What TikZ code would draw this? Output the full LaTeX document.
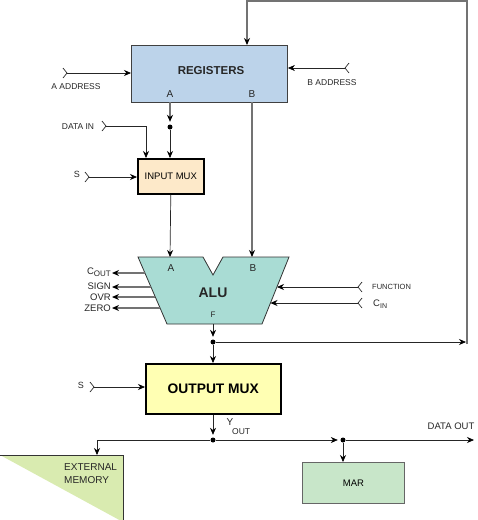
\documentclass[tikz,border=0pt]{standalone}
\usepackage{fontspec}
\setmainfont{Liberation Sans}
\usetikzlibrary{arrows.meta}
\definecolor{regfill}{HTML}{BCD3EA}
\definecolor{inmfill}{HTML}{FDE9C9}
\definecolor{alufill}{HTML}{A9DCD4}
\definecolor{outmfill}{HTML}{FFFFB3}
\definecolor{extfill}{HTML}{D9EBB0}
\definecolor{marfill}{HTML}{C8E6C9}
\newcommand{\fsz}[1]{\fontsize{#1}{#1}\selectfont}
\begin{document}
\begin{tikzpicture}[x=1pt,y=-1pt,
  wire/.style={draw=black!85, line width=0.7pt},
  bus/.style={draw=black!55, line width=1.5pt},
  arr/.style={-{Stealth[length=7pt,width=6pt,color=black]}},
  dotn/.style={circle, fill=black, inner sep=0pt, minimum size=5pt},
  lbl/.style={inner sep=1pt, text=black!85},
  box/.style={anchor=north west, inner sep=0pt},
  chevR/.pic={\draw[black!85, line width=0.7pt] (-4,-5) -- (0,0) -- (-4,5);},
  chevL/.pic={\draw[black!85, line width=0.7pt] (4,-5) -- (0,0) -- (4,5);},
]
\useasboundingbox (0,0) rectangle (478,520);

% ---------- boxes ----------
\node[box, draw=black!75, line width=0.9pt, fill=regfill, minimum width=156pt, minimum height=57pt] (reg) at (131,45) {};
\node[font=\bfseries\fsz{11.5}, text=black!85] (regt) at (211,71) {REGISTERS};
\node[font=\fsz{10}, text=black!85] (regAl) at (170,94) {A};
\node[font=\fsz{10}, text=black!85] (regBl) at (252,94) {B};

\node[box, draw=black, line width=1.6pt, fill=inmfill, minimum width=66pt, minimum height=35pt, font=\fsz{9.5}] (inmux) at (137,158) {INPUT MUX};

\draw[draw=black!80, line width=0.8pt, fill=alufill]
  (138,257) -- (203,257) -- (213,275) -- (223,257) -- (289,257) -- (262,324) -- (167,324) -- cycle;
\node[font=\bfseries\fsz{14}, text=black!85] (alu) at (213,293) {ALU};
\node[font=\fsz{10}, text=black!85] (aluAl) at (171,268) {A};
\node[font=\fsz{10}, text=black!85] (aluBl) at (253,268) {B};
\node[font=\fsz{8}, text=black!85] (aluFl) at (213,315) {F};

\node[box, draw=black, line width=1.6pt, fill=outmfill, minimum width=135pt, minimum height=50pt, font=\bfseries\fsz{13.8}] (outmux) at (145,363) {OUTPUT MUX};

\fill[extfill] (0,455) -- (123,455) -- (123,522) -- cycle;
\draw[black!80, line width=0.8pt] (0,455) -- (123,455) -- (123,520);
\node[anchor=north west, align=left, inner sep=0pt, font=\fsz{10}, text=black!85] (extmem) at (64,463) {EXTERNAL\\[3pt]MEMORY};

\node[box, draw=black!60, line width=0.8pt, fill=marfill, minimum width=102pt, minimum height=41pt, font=\fsz{9.5}] (mar) at (302,462) {MAR};

% ---------- coordinates ----------
\coordinate (regA) at (170,102);
\coordinate (regB) at (252,102);
\coordinate (aluA) at (170,257);
\coordinate (aluB) at (252,257);
\coordinate (aluF) at (213,324);
\coordinate (aluCo) at (144.9,273);
\coordinate (aluSg) at (151,287);
\coordinate (aluOv) at (155.3,297);
\coordinate (aluZe) at (160.1,308);
\coordinate (aluFn) at (277,287);
\coordinate (aluCi) at (270.5,303);
\node[dotn] (dotA) at (170,127) {};
\node[dotn] (dotF) at (213,342) {};
\node[dotn] (dotY) at (213,440) {};
\node[dotn] (dotM) at (343,440) {};
\coordinate (fbR) at (466,342);
\coordinate (fbBot) at (467,344);
\coordinate (fbTR) at (467,1);
\coordinate (fbTL) at (247,1);
\coordinate (busL) at (97,440);
\coordinate (busR) at (474,440);
\coordinate (extTop) at (97,455);
\coordinate (inD) at (146,158);

% ---------- inputs with chevrons ----------
\coordinate (aaddr) at (67,73);
\pic at (aaddr) {chevR};
\draw[wire,arr] (aaddr) -- (aaddr -| reg.west);
\node[lbl, font=\fsz{8.5}] (aaddrl) at (76,87) {A ADDRESS};

\coordinate (baddr) at (345,68);
\pic at (baddr) {chevL};
\draw[wire,arr] (baddr) -- (baddr -| reg.east);
\node[lbl, font=\fsz{8.5}] (baddrl) at (332,83) {B ADDRESS};

\coordinate (din) at (106,126);
\pic at (din) {chevR};
\draw[wire,arr] (din) -| (inD);
\node[lbl, font=\fsz{8.5}] (dinl) at (78,127) {DATA IN};

\coordinate (sone) at (89,177);
\pic at (sone) {chevR};
\draw[wire,arr] (sone) -- (sone -| inmux.west);
\node[lbl, font=\fsz{9}] (sonel) at (77,174) {S};

\coordinate (fn) at (358,287);
\pic at (fn) {chevL};
\draw[wire,arr] (fn) -- (aluFn);
\node[lbl, anchor=west, font=\fsz{7.5}] (fnl) at (371,287) {FUNCTION};

\coordinate (cin) at (358,303);
\pic at (cin) {chevL};
\draw[wire,arr] (cin) -- (aluCi);
\node[lbl, anchor=west] (cinl) at (372,304) {{\fsz{9.5}C}\raisebox{-0.35ex}{\fsz{7}IN}};

\coordinate (stwo) at (94,387);
\pic at (stwo) {chevR};
\draw[wire,arr] (stwo) -- (stwo -| outmux.west);
\node[lbl, font=\fsz{9}] (stwol) at (81,385) {S};

% ---------- ALU status outputs ----------
\node[lbl, anchor=east] (coutl) at (112,272) {{\fsz{9.5}C}\raisebox{-0.3ex}{\fsz{8}OUT}};
\node[lbl, anchor=east, font=\fsz{9.5}] (signl) at (112,286) {SIGN};
\node[lbl, anchor=east, font=\fsz{9.5}] (ovrl) at (112,297) {OVR};
\node[lbl, anchor=east, font=\fsz{9.5}] (zerol) at (112,308) {ZERO};
\draw[bus,arr] (aluCo) -- (aluCo -| coutl.east);
\draw[bus,arr] (aluSg) -- (aluSg -| signl.east);
\draw[bus,arr] (aluOv) -- (aluOv -| ovrl.east);
\draw[bus,arr] (aluZe) -- (aluZe -| zerol.east);

% ---------- data paths ----------
\draw[bus,arr,shorten >=2.5pt] (regA) -- (dotA);
\draw[wire,arr] (dotA) -- (dotA |- inmux.north);
\draw[bus,arr] (regB) -- (aluB);
\draw[wire,arr] (inmux.south) -- (aluA);
\draw[wire,arr,shorten >=2.5pt] (aluF) -- (dotF);
\draw[wire,arr] (dotF) -- (fbR);
\draw[bus,arr] (fbBot) -- (fbTR) -- (fbTL) -- (fbTL |- reg.north);
\draw[wire,arr] (dotF) -- (dotF |- outmux.north);
\draw[wire,arr,shorten >=2.5pt] (outmux.south -| dotY) -- (dotY);
\node[lbl, inner sep=0pt, font=\fsz{10}] (youtY) at (230,422) {Y};
\node[lbl, inner sep=0pt, anchor=west, font=\fsz{8.5}] (youtO) at (232,432) {OUT};
\draw[wire,arr] (dotY) -- (busL) -- (extTop);
\draw[wire,arr,shorten >=2.5pt] (dotY) -- (dotM);
\draw[wire,arr] (dotM) -- (busR);
\draw[wire,arr] (dotM) -- (dotM |- mar.north);
\node[lbl, font=\fsz{9.5}] (doutl) at (451,426) {DATA OUT};
\end{tikzpicture}
\end{document}
